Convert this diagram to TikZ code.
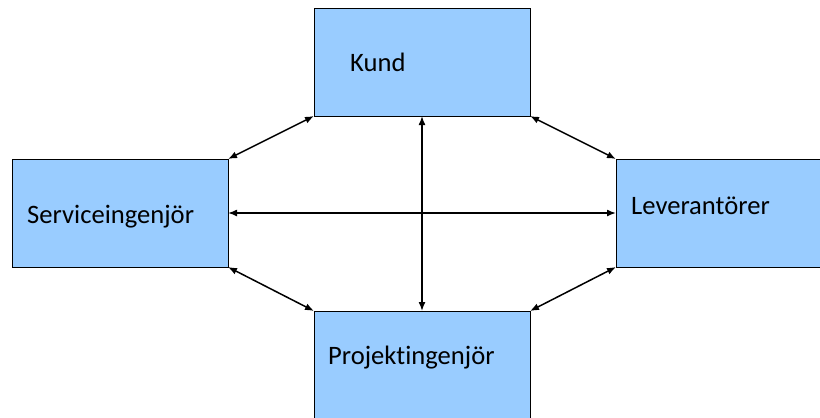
\documentclass[tikz,border=0pt]{standalone}
\usepackage{fontspec}
\setmainfont[Ligatures=NoCommon]{Carlito}
\usetikzlibrary{arrows.meta}
\definecolor{boxblue}{HTML}{99CCFF}
\tikzset{
  rolebox/.style={draw=black, line width=0.9bp, fill=boxblue, rectangle,
    minimum width=216bp, minimum height=108bp, inner sep=0pt, outer sep=0pt},
  roletext/.style={anchor=base west, inner sep=0pt, font=\fontsize{26.6bp}{30bp}\selectfont},
  link/.style={line width=1.5bp, {Latex[length=9bp,width=7bp]}-{Latex[length=9bp,width=7bp]}}
}
\begin{document}
\begin{tikzpicture}[x=1bp,y=-1bp]
  \useasboundingbox (0,0) rectangle (820,417);
  % the four roles
  \node[rolebox] (k) at (422,62) {};
  \node[rolebox] (s) at (120,213) {};
  \node[rolebox] (l) at (724,213) {};
  \node[rolebox] (p) at (422,365) {};
  % their labels
  \node[roletext] (kt) at (350,71) {Kund};
  \node[roletext] (st) at (27,223) {Serviceingenjör};
  \node[roletext] (lt) at (631,214) {Leverantörer};
  \node[roletext] (pt) at (328,364) {Projektingenjör};
  % two-way links between the roles
  \draw[link] (k.south west) -- (s.north east);
  \draw[link] (k.south east) -- (l.north west);
  \draw[link] (s.south east) -- (p.north west);
  \draw[link] (l.south west) -- (p.north east);
  \draw[link] (k.south) -- (p.north);
  \draw[link] (s.east) -- (l.west);
\end{tikzpicture}
\end{document}
